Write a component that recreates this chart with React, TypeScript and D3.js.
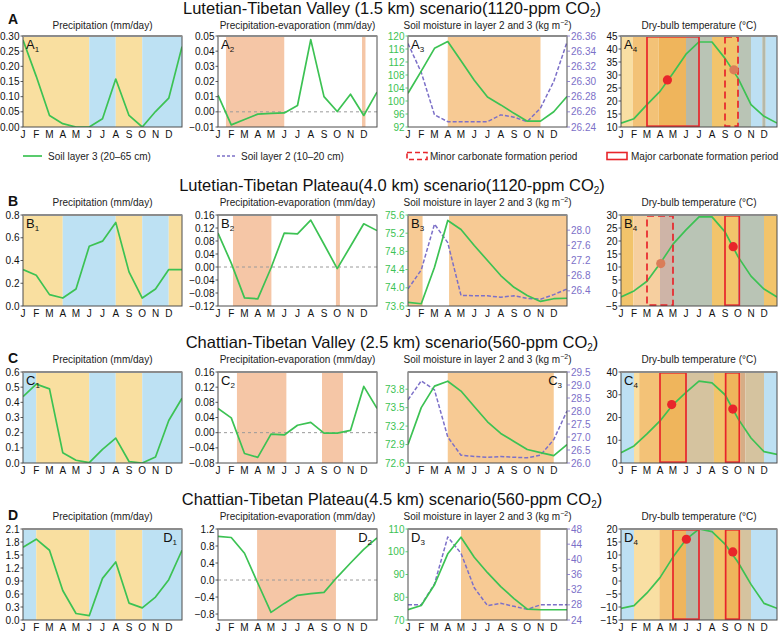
import React from 'react';
import * as d3 from 'd3';

const MONTHS = ['J', 'F', 'M', 'A', 'M', 'J', 'J', 'A', 'S', 'O', 'N', 'D'];
const ROW_LETTERS = ['A', 'B', 'C', 'D'];
const ROW_TITLES = [
  'Lutetian-Tibetan Valley (1.5 km) scenario(1120-ppm CO₂)',
  'Lutetian-Tibetan Plateau(4.0 km) scenario(1120-ppm CO₂)',
  'Chattian-Tibetan Valley (2.5 km) scenario(560-ppm CO₂)',
  'Chattian-Tibetan Plateau(4.5 km) scenario(560-ppm CO₂)',
];
const LEGEND_LABELS = [
  'Soil layer 3 (20–65 cm)',
  'Soil layer 2 (10–20 cm)',
  'Minor carbonate formation period',
  'Major carbonate formation period',
];

type Band = [number, number, string];
type Period = [number, number, 'major' | 'minor'];
type Dot = [number, number, 'major' | 'minor'];

// ---------------- Row A ----------------
const A_PRECIP = [0.287, 0.167, 0.038, 0.011, 0.0, 0.0, 0.027, 0.158, 0.038, 0.0, 0.051, 0.095, 0.265];
const A_PRECIP_TICKS = [0, 0.05, 0.1, 0.15, 0.2, 0.25, 0.3];
const A_PRECIP_BANDS: Band[] = [[0, 5, 'y'], [5, 7, 'b'], [7, 9, 'y'], [9, 12, 'b']];
const A_PE = [0.011, -0.0086, -0.005, -0.0015, -0.001, -0.0007, 0.0042, 0.0476, 0.010, 0.0002, 0.0116, -0.0024, 0.013];
const A_PE_TICKS = [-0.01, 0, 0.01, 0.02, 0.03, 0.04, 0.05];
const A_PE_BANDS: Band[] = [[0.6, 5, 's'], [10.87, 11.13, 's']];
const A_SOIL3 = [102.4, 109.2, 116.2, 118.3, 112.4, 106.4, 101.2, 98.8, 96.2, 93.8, 93.8, 96.7, 101.4];
const A_SOIL3_TICKS = [92, 96, 100, 104, 108, 112, 116, 120];
const A_SOIL2 = [26.35, 26.312, 26.256, 26.247, 26.247, 26.247, 26.247, 26.256, 26.253, 26.247, 26.265, 26.3, 26.352];
const A_SOIL2_TICKS = [26.24, 26.26, 26.28, 26.3, 26.32, 26.34, 26.36];
const A_SOIL_BANDS: Band[] = [[3, 10, 'o']];
const A_TEMP = [11.5, 13.2, 18.6, 23.7, 30.7, 38, 42.7, 42.7, 36.4, 28.8, 18.6, 14.1, 11.5];
const A_TEMP_TICKS = [10, 15, 20, 25, 30, 35, 40, 45];
const A_TEMP_BANDS: Band[] = [
  [0, 0.9, 'py'], [0.9, 2.9, 'lo'], [2.9, 5, 'do'], [5, 6, 'gr'], [6, 7, 'gg'], [7, 9, 'or'],
  [9, 10, 'gg'], [10, 10.87, 'lb'], [10.87, 11.13, 'gr'], [11.13, 12, 'lb'],
];
const A_PERIODS: Period[] = [[2, 6, 'major'], [8, 9, 'minor']];
const A_DOTS: Dot[] = [[3.57, 28.1, 'major'], [8.68, 32, 'minor']];

// ---------------- Row B ----------------
const B_PRECIP = [0.32, 0.27, 0.1, 0.07, 0.15, 0.525, 0.57, 0.735, 0.3, 0.07, 0.15, 0.32, 0.32];
const B_PRECIP_TICKS = [0, 0.2, 0.4, 0.6, 0.8];
const B_PRECIP_BANDS: Band[] = [[0, 3, 'y'], [3, 7, 'b'], [7, 9, 'y'], [9, 11, 'b'], [11, 12, 'y']];
const B_PE = [0.1045, 0.012, -0.095, -0.098, -0.003, 0.1045, 0.102, 0.144, 0.07, -0.005, 0.064, 0.133, 0.112];
const B_PE_TICKS = [-0.12, -0.08, -0.04, 0, 0.04, 0.08, 0.12, 0.16];
const B_PE_BANDS: Band[] = [[1.13, 4.03, 's'], [8.9, 9.2, 's']];
const B_SOIL3 = [73.68, 73.65, 74.45, 75.48, 75.28, 74.93, 74.6, 74.27, 74.01, 73.83, 73.7, 73.76, 73.77];
const B_SOIL3_TICKS = [73.6, 74.0, 74.4, 74.8, 75.2, 75.6];
const B_SOIL2 = [26.45, 26.95, 28.16, 27.67, 26.28, 26.27, 26.27, 26.23, 26.27, 26.2, 26.18, 26.3, 26.45];
const B_SOIL2_TICKS = [26.4, 26.8, 27.2, 27.6, 28.0];
const B_SOIL_BANDS: Band[] = [[0, 1.1, 'o'], [3.1, 12, 'o']];
const B_TEMP = [-1.5, 0.8, 4.5, 11.3, 18.8, 24.3, 29.3, 29.3, 23.5, 14, 6.5, 1.5, -1.5];
const B_TEMP_TICKS = [-5, 0, 5, 10, 15, 20, 25, 30];
const B_TEMP_BANDS: Band[] = [
  [0, 0.95, 'or'], [0.95, 3, 'pe'], [3, 4, 'mv'], [4, 7, 'gg'], [7, 9, 'or'], [9, 11, 'gg'], [11, 12, 'or'],
];
const B_PERIODS: Period[] = [[2, 4, 'minor'], [8, 9.1, 'major']];
const B_DOTS: Dot[] = [[3.06, 11.3, 'minor'], [8.63, 17.8, 'major']];

// ---------------- Row C ----------------
const C_PRECIP = [0.438, 0.52, 0.489, 0.068, 0.018, 0.002, 0.09, 0.164, 0.01, 0.0, 0.04, 0.28, 0.427];
const C_PRECIP_TICKS = [0, 0.1, 0.2, 0.3, 0.4, 0.5, 0.6];
const C_PRECIP_BANDS: Band[] = [[0, 1, 'b'], [1, 5, 'y'], [5, 7, 'b'], [7, 9, 'y'], [9, 12, 'b']];
const C_PE = [0.064, 0.039, -0.055, -0.065, -0.004, -0.006, 0.0195, 0.027, -0.001, -0.001, 0.006, 0.122, 0.064];
const C_PE_TICKS = [-0.08, -0.04, 0, 0.04, 0.08, 0.12, 0.16];
const C_PE_BANDS: Band[] = [[1.43, 5.16, 's'], [7.85, 9.43, 's']];
const C_SOIL3 = [72.9, 73.5, 73.85, 73.93, 73.77, 73.52, 73.27, 73.08, 72.95, 72.82, 72.77, 72.72, 72.9];
const C_SOIL3_TICKS = [72.6, 72.9, 73.2, 73.5, 73.8];
const C_SOIL2 = [28.43, 29.16, 28.81, 27.0, 26.3, 26.25, 26.22, 26.25, 26.22, 26.2, 26.3, 26.9, 28.0];
const C_SOIL2_TICKS = [26.0, 26.5, 27.0, 27.5, 28.0, 28.5, 29.0, 29.5];
const C_SOIL_BANDS: Band[] = [[3, 11, 'o']];
const C_TEMP = [4.5, 7.5, 12.8, 18.5, 25.7, 31, 36, 35.2, 30, 19.5, 11, 5, 3.8];
const C_TEMP_TICKS = [0, 10, 20, 30, 40];
const C_TEMP_BANDS: Band[] = [
  [0, 1, 'lb'], [1, 1.4, 'py'], [1.4, 2.95, 'lo'], [2.95, 5, 'do'], [5, 7.15, 'tan'], [7.15, 8.05, 'or'],
  [8.05, 9.2, 'do'], [9.2, 9.57, 'br'], [9.57, 11, 'tan'], [11, 12, 'lb'],
];
const C_PERIODS: Period[] = [[3, 5, 'major'], [8.05, 9.1, 'major']];
const C_DOTS: Dot[] = [[3.9, 25.7, 'major'], [8.6, 23.7, 'major']];

// ---------------- Row D ----------------
const D_PRECIP = [1.68, 1.865, 1.61, 0.68, 0.15, 0.1, 0.96, 1.34, 0.39, 0.28, 0.53, 0.93, 1.61];
const D_PRECIP_TICKS = [0, 0.3, 0.6, 0.9, 1.2, 1.5, 1.8, 2.1];
const D_PRECIP_BANDS: Band[] = [[0, 1, 'b'], [1, 5, 'y'], [5, 7, 'b'], [7, 9, 'y'], [9, 12, 'b']];
const D_PE = [1.025, 1.0, 0.63, -0.07, -0.76, -0.55, -0.36, -0.32, -0.29, 0.07, 0.4, 0.72, 0.99];
const D_PE_TICKS = [-0.8, -0.4, 0, 0.4, 0.8, 1.2];
const D_PE_BANDS: Band[] = [[2.95, 8.9, 's']];
const D_SOIL3 = [74.5, 76.4, 85.5, 99.1, 106.4, 97.6, 90.8, 84.7, 79.4, 74.8, 74.5, 74.5, 74.5];
const D_SOIL3_TICKS = [70, 80, 90, 100, 110];
const D_SOIL2 = [28.0, 28.0, 33.5, 45.9, 41.6, 32.5, 27.8, 28.4, 27.6, 26.8, 28.0, 28.0, 28.0];
const D_SOIL2_TICKS = [24, 28, 32, 36, 40, 44, 48];
const D_SOIL_BANDS: Band[] = [[4, 10, 'o']];
const D_TEMP = [-10.5, -9.5, -4.6, 1.3, 9.2, 16, 20, 19, 14.2, 7.2, -1.3, -8.6, -10.5];
const D_TEMP_TICKS = [-15, -10, -5, 0, 5, 10, 15, 20];
const D_TEMP_BANDS: Band[] = [
  [0, 1, 'lb'], [1, 2.95, 'py'], [2.95, 4, 'lo'], [4, 5, 'do'], [5, 6, 'gr'], [6, 7.15, 'gr2'],
  [7.15, 8.05, 'or'], [8.05, 9.2, 'do'], [9.2, 10, 'tan'], [10, 12, 'lb'],
];
const D_PERIODS: Period[] = [[4, 6, 'major'], [8.05, 9.1, 'major']];
const D_DOTS: Dot[] = [[5.03, 16.05, 'major'], [8.6, 11.2, 'major']];

// ---------------- styling ----------------
const FONT = 'Liberation Sans, Arial, Helvetica, sans-serif';
const GREEN = '#3cc253';
const PURPLE = '#7c70c8';
const RED = '#e8252b';
const BAND_COLORS: Record<string, string> = {
  y: '#f9dfa0', b: '#bde1f3', s: '#f5c6a6', o: '#f7ca94',
  py: '#f9dfa3', lb: '#bde0f3', lo: '#f3c277', pe: '#f6cf9f', or: '#f2c46b', do: '#efb55c',
  gg: '#b9c4b5', gr: '#b6b9a8', gr2: '#bdbfae', tan: '#d5c39f', mv: '#ceb4a7', br: '#d6ad86',
};
const COLS = [
  { x0: 23, x1: 182 },
  { x0: 218, x1: 377 },
  { x0: 408, x1: 567 },
  { x0: 621, x1: 777 },
];
const ROW_TOPS = [36, 215, 372, 529];
const PLOT_H = 91;

interface Series { values: number[]; color: string; dash?: string; axis: 'left' | 'right' }
interface PanelSpec {
  col: number;
  sub: string;
  labelRight?: boolean;
  title: React.ReactNode;
  yDomain: [number, number];
  yTicks: number[];
  fmt: string;
  yColor?: string;
  y2Domain?: [number, number];
  y2Ticks?: number[];
  fmt2?: string;
  bands: Band[];
  series: Series[];
  zero?: boolean;
  periods?: Period[];
  dots?: Dot[];
}

const T1 = 'Precipitation (mm/day)';
const T2 = 'Precipitation-evaporation (mm/day)';
const T3 = (
  <>
    Soil moisture in layer 2 and 3 (kg m
    <tspan fontSize={7} dy={-4}>−2</tspan>
    <tspan dy={4}>)</tspan>
  </>
);
const T4 = 'Dry-bulb temperature (°C)';

function rowSpecs(
  precip: number[], pTicks: number[], pBands: Band[], pFmt: string,
  pe: number[], peTicks: number[], peBands: Band[], peFmt: string,
  s3: number[], s3Ticks: number[], s3Fmt: string, s2: number[], s2Ticks: number[], s2Fmt: string, sBands: Band[],
  temp: number[], tTicks: number[], tBands: Band[], periods: Period[], dots: Dot[],
  opts: { pe2?: [number, number]; s3d?: [number, number]; s2d?: [number, number]; labelRight?: boolean[] }
): PanelSpec[] {
  const lr = opts.labelRight || [false, false, false, false];
  return [
    {
      col: 0, sub: '1', labelRight: lr[0], title: T1,
      yDomain: [pTicks[0], pTicks[pTicks.length - 1]], yTicks: pTicks, fmt: pFmt, bands: pBands,
      series: [{ values: precip, color: GREEN, axis: 'left' }],
    },
    {
      col: 1, sub: '2', labelRight: lr[1], title: T2,
      yDomain: opts.pe2 || [peTicks[0], peTicks[peTicks.length - 1]], yTicks: peTicks, fmt: peFmt, bands: peBands,
      series: [{ values: pe, color: GREEN, axis: 'left' }], zero: true,
    },
    {
      col: 2, sub: '3', labelRight: lr[2], title: T3,
      yDomain: opts.s3d || [s3Ticks[0], s3Ticks[s3Ticks.length - 1]], yTicks: s3Ticks, fmt: s3Fmt, yColor: GREEN,
      y2Domain: opts.s2d || [s2Ticks[0], s2Ticks[s2Ticks.length - 1]], y2Ticks: s2Ticks, fmt2: s2Fmt,
      bands: sBands,
      series: [
        { values: s2, color: PURPLE, dash: '4,2', axis: 'right' },
        { values: s3, color: GREEN, axis: 'left' },
      ],
    },
    {
      col: 3, sub: '4', labelRight: lr[3], title: T4,
      yDomain: [tTicks[0], tTicks[tTicks.length - 1]], yTicks: tTicks, fmt: '.0f', bands: tBands,
      series: [{ values: temp, color: GREEN, axis: 'left' }], periods, dots,
    },
  ];
}

const ROWS: PanelSpec[][] = [
  rowSpecs(A_PRECIP, A_PRECIP_TICKS, A_PRECIP_BANDS, '.2f', A_PE, A_PE_TICKS, A_PE_BANDS, '.2f',
    A_SOIL3, A_SOIL3_TICKS, '.0f', A_SOIL2, A_SOIL2_TICKS, '.2f', A_SOIL_BANDS,
    A_TEMP, A_TEMP_TICKS, A_TEMP_BANDS, A_PERIODS, A_DOTS, {}),
  rowSpecs(B_PRECIP, B_PRECIP_TICKS, B_PRECIP_BANDS, '.1f', B_PE, B_PE_TICKS, B_PE_BANDS, '.2f',
    B_SOIL3, B_SOIL3_TICKS, '.1f', B_SOIL2, B_SOIL2_TICKS, '.1f', B_SOIL_BANDS,
    B_TEMP, B_TEMP_TICKS, B_TEMP_BANDS, B_PERIODS, B_DOTS, { s2d: [26.0, 28.4] }),
  rowSpecs(C_PRECIP, C_PRECIP_TICKS, C_PRECIP_BANDS, '.1f', C_PE, C_PE_TICKS, C_PE_BANDS, '.2f',
    C_SOIL3, C_SOIL3_TICKS, '.1f', C_SOIL2, C_SOIL2_TICKS, '.1f', C_SOIL_BANDS,
    C_TEMP, C_TEMP_TICKS, C_TEMP_BANDS, C_PERIODS, C_DOTS,
    { s3d: [72.6, 74.08], labelRight: [false, false, true, false] }),
  rowSpecs(D_PRECIP, D_PRECIP_TICKS, D_PRECIP_BANDS, '.1f', D_PE, D_PE_TICKS, D_PE_BANDS, '.1f',
    D_SOIL3, D_SOIL3_TICKS, '.0f', D_SOIL2, D_SOIL2_TICKS, '.0f', D_SOIL_BANDS,
    D_TEMP, D_TEMP_TICKS, D_TEMP_BANDS, D_PERIODS, D_DOTS,
    { pe2: [-0.94, 1.2], labelRight: [true, true, false, false] }),
];

function Panel({ spec, top, letter, id, subY }: { spec: PanelSpec; top: number; letter: string; id: string; subY: number }) {
  const c = COLS[spec.col];
  const H = PLOT_H;
  const x = d3.scaleLinear().domain([0, 12]).range([c.x0, c.x1]);
  const y = d3.scaleLinear().domain(spec.yDomain).range([top + H, top]);
  const y2 = spec.y2Domain ? d3.scaleLinear().domain(spec.y2Domain).range([top + H, top]) : null;
  const f = d3.format(spec.fmt);
  const f2 = d3.format(spec.fmt2 || '.1f');
  const clipId = `clip-${id}`;
  return (
    <g>
      <defs>
        <clipPath id={clipId}>
          <rect x={c.x0} y={top} width={c.x1 - c.x0} height={H} />
        </clipPath>
      </defs>
      {spec.bands.map((b, i) => (
        <rect key={`b${i}`} x={x(b[0])} y={top} width={x(b[1]) - x(b[0])} height={H} fill={BAND_COLORS[b[2]]} />
      ))}
      {spec.zero && (
        <line x1={c.x0} x2={c.x1} y1={y(0)} y2={y(0)} stroke="#9a9a9a" strokeWidth={1} strokeDasharray="3,3" />
      )}
      <g clipPath={`url(#${clipId})`}>
        {spec.series.map((s, i) => {
          const sc = s.axis === 'right' && y2 ? y2 : y;
          const line = d3.line<number>().x((_, j) => x(j)).y((v) => sc(v));
          return (
            <path key={`s${i}`} d={line(s.values) || ''} fill="none" stroke={s.color}
              strokeWidth={s.dash ? 1.5 : 1.7} strokeDasharray={s.dash} strokeLinejoin="round" />
          );
        })}
      </g>
      {(spec.periods || []).map((p, i) => (
        <rect key={`p${i}`} x={x(p[0])} y={top + 0.8} width={x(p[1]) - x(p[0])} height={H - 1.6}
          fill="none" stroke={RED} strokeWidth={1.7} strokeDasharray={p[2] === 'minor' ? '7,4' : undefined} />
      ))}
      {(spec.dots || []).map((d, i) => (
        <circle key={`d${i}`} cx={x(d[0])} cy={y(d[1])} r={4.6}
          fill={d[2] === 'major' ? RED : '#da7d59'} />
      ))}
      <rect x={c.x0} y={top} width={c.x1 - c.x0} height={H} fill="none" stroke="#4d4d4d" strokeWidth={1} />
      <line x1={c.x0} x2={c.x1} y1={top} y2={top} stroke="#8c8c8c" strokeWidth={2} />
      {spec.yTicks.map((t, i) => (
        <g key={`yt${i}`}>
          <line x1={c.x0 - 2.5} x2={c.x0} y1={y(t)} y2={y(t)} stroke={spec.yColor || '#333'} strokeWidth={0.8} />
          <text x={c.x0 - 3.5} y={y(t) + 3.5} textAnchor="end" fontSize={10} fill={spec.yColor || '#111'}>{f(t)}</text>
        </g>
      ))}
      {y2 && (spec.y2Ticks || []).map((t, i) => (
        <g key={`y2t${i}`}>
          <line x1={c.x1} x2={c.x1 + 3} y1={y2(t)} y2={y2(t)} stroke={PURPLE} strokeWidth={0.8} />
          <text x={c.x1 + 4} y={y2(t) + 3.5} textAnchor="start" fontSize={10} fill={PURPLE}>{f2(t)}</text>
        </g>
      ))}
      {MONTHS.map((m, i) => (
        <text key={`m${i}`} x={x(i)} y={top + H + 10.5} textAnchor="middle" fontSize={10} fill="#111">{m}</text>
      ))}
      <text x={(c.x0 + c.x1) / 2} y={subY} textAnchor="middle" fontSize={10} fill="#222">{spec.title}</text>
      <text x={spec.labelRight ? c.x1 - 5 : c.x0 + 3} y={top + 12.5} textAnchor={spec.labelRight ? 'end' : 'start'}
        fontSize={13} fill="#111">
        {letter}
        <tspan fontSize={8} dy={3}>{spec.sub}</tspan>
      </text>
    </g>
  );
}

function Title({ text, y }: { text: string; y: number }) {
  const parts = text.split('₂');
  return (
    <text x={392} y={y} textAnchor="middle" fontSize={16.5} fill="#111">
      {parts[0]}
      <tspan fontSize={10} dy={3}>2</tspan>
      <tspan dy={-3}>{parts[1]}</tspan>
    </text>
  );
}

export default function App() {
  const legendY = 156;
  return (
    <div style={{ position: 'absolute', left: 0, top: 0 }}>
      <svg width={780} height={632} style={{ display: 'block', fontFamily: FONT, background: '#fff' }}>
        {ROWS.map((row, r) => {
          const top = ROW_TOPS[r];
          const subY = r === 0 ? top - 7 : top - 9;
          return (
            <g key={`r${r}`}>
              <Title text={ROW_TITLES[r]} y={r === 0 ? 14 : top - 24} />
              <text x={8} y={r === 0 ? top - 12 : top - 9} fontSize={14} fontWeight="bold" fill="#111">{ROW_LETTERS[r]}</text>
              {row.map((spec, p) => (
                <Panel key={`p${p}`} spec={spec} top={top} letter={ROW_LETTERS[r]} id={`${r}-${p}`} subY={subY} />
              ))}
            </g>
          );
        })}
        <g fontSize={10} fill="#222">
          <line x1={23} x2={42} y1={legendY} y2={legendY} stroke={GREEN} strokeWidth={1.7} />
          <text x={48} y={legendY + 3.5}>{LEGEND_LABELS[0]}</text>
          <line x1={217} x2={236} y1={legendY} y2={legendY} stroke={PURPLE} strokeWidth={1.5} strokeDasharray="3,2" />
          <text x={241} y={legendY + 3.5}>{LEGEND_LABELS[1]}</text>
          <rect x={407} y={legendY - 3.5} width={20} height={7} fill="none" stroke={RED} strokeWidth={1.6} strokeDasharray="5,3" />
          <text x={430} y={legendY + 3.5}>{LEGEND_LABELS[2]}</text>
          <rect x={607} y={legendY - 3.5} width={20} height={7} fill="none" stroke={RED} strokeWidth={1.6} />
          <text x={631} y={legendY + 3.5}>{LEGEND_LABELS[3]}</text>
        </g>
      </svg>
    </div>
  );
}
